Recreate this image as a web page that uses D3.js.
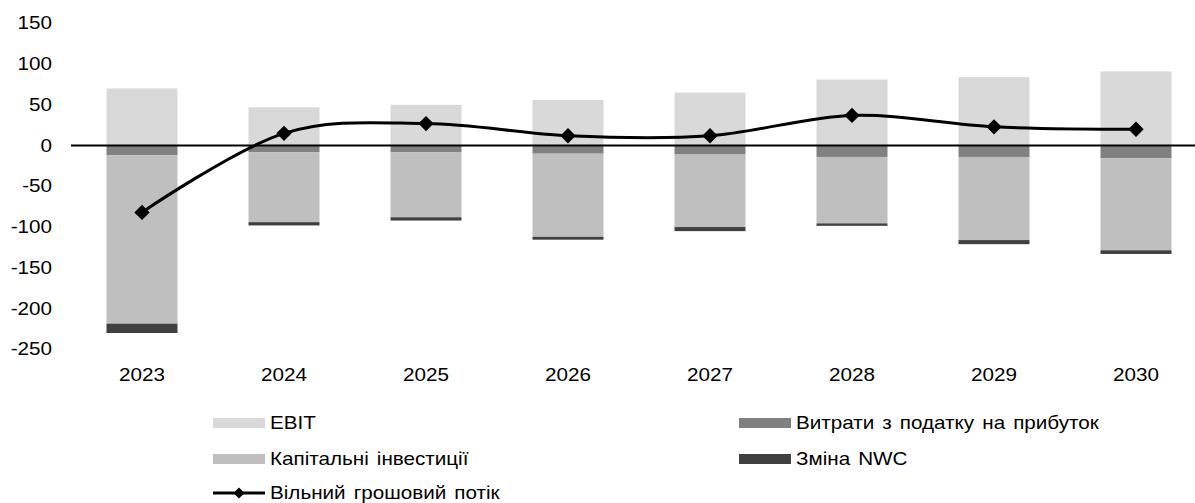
<!DOCTYPE html>
<html>
    <head>
        <meta charset='utf-8'>
        <title>FCF chart</title>
        <script src='https://cdn.jsdelivr.net/npm/d3@7'></script>
        <style>
            body { margin:0; background:#fff; }
            text { font-family:"Liberation Sans", Arial, sans-serif; fill:#000; font-size:17.5px; }
        </style>
    </head>
    <body>
        <div id='chart'></div>
        <script>
            var years = ["2023", "2024", "2025", "2026", "2027", "2028", "2029", "2030"];
            var ebit  = [70, 47, 50, 56, 65, 81, 84, 91];
            var tax   = [-12, -8, -8, -10, -11, -14, -14, -15.5];
            var capex = [-206.5, -86, -80, -102, -89, -81.5, -102, -113];
            var nwc   = [-11.5, -4, -4, -3.5, -5, -3, -5, -4.5];
            var fcf   = [-82, 15, 27, 12, 12, 37, 23, 20];
            var yTicks = [150, 100, 50, 0, -50, -100, -150, -200, -250];

            var w = 1195;
            var h = 503;
            var sx = 1.18; // text in the picture is a bit wide

            var keys = ["ebit", "tax", "capex", "nwc"];
            var colors = {ebit: "#d9d9d9", tax: "#808080", capex: "#bfbfbf", nwc: "#404040"};
            var names = {
                ebit: "EBIT",
                tax: "Витрати з податку на прибуток",
                capex: "Капітальні інвестиції",
                nwc: "Зміна NWC",
                fcf: "Вільний грошовий потік"
            };

            var rows = years.map(function(y, i) {
                return {year: y, ebit: ebit[i], tax: tax[i], capex: capex[i], nwc: nwc[i], fcf: fcf[i]};
            });

            var svg = d3.select("#chart")
                        .append("svg")
                        .attr("width", w)
                        .attr("height", h);

            var x = d3.scaleBand()
                      .domain(years)
                      .range([71, 1207])
                      .paddingInner(0.5)
                      .paddingOuter(0.25);

            var y = d3.scaleLinear()
                      .domain([-250, 150])
                      .range([349.3, 23.3]);

            var series = d3.stack()
                           .keys(keys)
                           .offset(d3.stackOffsetDiverging)(rows);

            svg.append("g")
                .selectAll("g")
                .data(series)
                .enter()
                .append("g")
                .attr("fill", function(d) { return colors[d.key]; })
                .selectAll("rect")
                .data(function(d) { return d; })
                .enter()
                .append("rect")
                .attr("x", function(d) { return x(d.data.year); })
                .attr("y", function(d) { return y(Math.max(d[0], d[1])); })
                .attr("width", x.bandwidth())
                .attr("height", function(d) { return Math.abs(y(d[0]) - y(d[1])); });

            // y labels, no axis line
            svg.append("g")
                .selectAll("text")
                .data(yTicks)
                .enter()
                .append("text")
                .attr("transform", function(d) { return "translate(52," + y(d) + ") scale(" + sx + ",1)"; })
                .attr("dy", "0.35em")
                .attr("text-anchor", "end")
                .text(function(d) { return d; });

            // zero line
            svg.append("line")
                .attr("x1", 71)
                .attr("x2", 1207)
                .attr("y1", y(0))
                .attr("y2", y(0))
                .attr("stroke", "#000")
                .attr("stroke-width", 2);

            // x labels
            svg.append("g")
                .selectAll("text")
                .data(years)
                .enter()
                .append("text")
                .attr("transform", function(d) {
                    return "translate(" + (x(d) + x.bandwidth() / 2) + ",375) scale(" + sx + ",1)";
                })
                .attr("dy", "0.35em")
                .attr("text-anchor", "middle")
                .text(function(d) { return d; });

            var line = d3.line()
                         .x(function(d) { return x(d.year) + x.bandwidth() / 2; })
                         .y(function(d) { return y(d.fcf); })
                         .curve(d3.curveCardinal.tension(0));

            svg.append("path")
                .datum(rows)
                .attr("d", line)
                .attr("fill", "none")
                .attr("stroke", "#000")
                .attr("stroke-width", 3);

            var diamond = d3.symbol().type(d3.symbolDiamond2).size(150);

            svg.append("g")
                .selectAll("path")
                .data(rows)
                .enter()
                .append("path")
                .attr("d", diamond)
                .attr("transform", function(d) {
                    return "translate(" + (x(d.year) + x.bandwidth() / 2) + "," + y(d.fcf) + ")";
                })
                .attr("fill", "#000");

            // legend
            var legendItems = [
                {key: "ebit", x: 213, y: 423},
                {key: "tax", x: 739, y: 423},
                {key: "capex", x: 213, y: 459},
                {key: "nwc", x: 739, y: 459}
            ];

            var leg = svg.append("g")
                         .selectAll("g")
                         .data(legendItems)
                         .enter()
                         .append("g")
                         .attr("transform", function(d) { return "translate(" + d.x + "," + d.y + ")"; });

            leg.append("rect")
                .attr("x", 0)
                .attr("y", -5)
                .attr("width", 52)
                .attr("height", 10)
                .attr("fill", function(d) { return colors[d.key]; });

            leg.append("text")
                .attr("transform", "translate(57,0) scale(" + sx + ",1)")
                .attr("dy", "0.35em")
                .attr("word-spacing", "2px")
                .text(function(d) { return names[d.key]; });

            var lineLeg = svg.append("g")
                             .attr("transform", "translate(213,493)");

            lineLeg.append("line")
                .attr("x1", 0)
                .attr("x2", 52)
                .attr("stroke", "#000")
                .attr("stroke-width", 3);

            lineLeg.append("path")
                .attr("d", d3.symbol().type(d3.symbolDiamond2).size(80))
                .attr("transform", "translate(26,0)")
                .attr("fill", "#000");

            lineLeg.append("text")
                .attr("transform", "translate(57,0) scale(" + sx + ",1)")
                .attr("dy", "0.35em")
                .attr("word-spacing", "2px")
                .text(names.fcf);
        </script>
    </body>
</html>
